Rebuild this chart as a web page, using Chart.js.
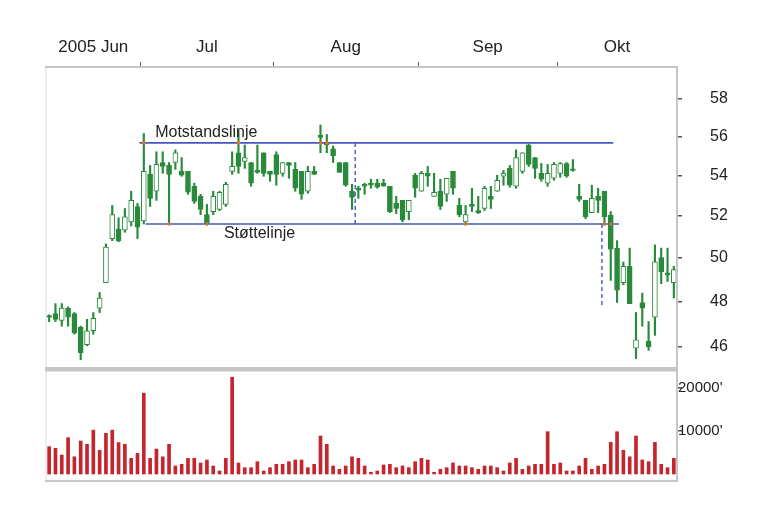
<!DOCTYPE html>
<html>
<head>
<meta charset="utf-8">
<script src="https://cdn.jsdelivr.net/npm/chart.js@4.4.1/dist/chart.umd.min.js"></script>
<style>
  html, body { margin: 0; padding: 0; background: #fff; }
  #wrap { position: relative; width: 768px; height: 523px; }
  canvas { position: absolute; left: 0; top: 0; }
</style>
</head>
<body>
<div id="wrap">
  <canvas id="pris" width="768" height="523"></canvas>
  <canvas id="volum" width="768" height="523"></canvas>
</div>
<script>
// Måneder og antall handelsdager
const months = ['2005 Jun', 'Jul', 'Aug', 'Sep', 'Okt'];
const monthDays = [15, 21, 23, 22, 19];
const priceTicks = [46, 48, 50, 52, 54, 56, 58];
const volumeTicks = [10000, 20000];

// Kurs (åpning, høy, lav, slutt)
const open = [47.3, 47.45, 47.15, 47.7, 47.45, 46.85, 46.1, 46.7, 47.7, 48.85,
  50.9, 51.35, 51.3, 51.7, 52.45, 51.75, 54.05, 53.2, 54.65, 54.5,
  54.65, 54.2, 54.2, 53.45, 52.95, 52.05, 52.2, 52.3, 52.55, 54.2,
  55.15, 54.7, 54.65, 54.27, 55.15, 54.2, 55.05, 54.1, 54.65, 54.3,
  54.2, 53.2, 54.2, 56.05, 55.65, 55.35, 54.65, 54.65, 53.2, 53.35,
  53.55, 53.6, 53.6, 53.6, 53.45, 52.6, 52.75, 52.2, 54.0, 53.2,
  54.1, 52.95, 53.2, 53.05, 54.2, 52.5, 51.7, 52.55, 52.25, 52.35,
  52.95, 53.2, 53.95, 54.35, 53.45, 54.2, 55.55, 54.9, 54.1, 53.6,
  53.85, 54.1, 54.6, 54.3, 52.95, 52.75, 52.15, 52.95, 53.2, 52.03,
  50.45, 48.85, 49.6, 45.95, 47.95, 46.25, 47.3, 50.0, 49.3, 48.85];
const high = [47.4, 47.9, 47.9, 47.75, 47.5, 46.9, 47.2, 47.5, 48.4, 50.65,
  52.5, 51.9, 52.35, 53.2, 52.6, 56.15, 54.5, 55.2, 55.2, 54.65,
  55.3, 54.9, 54.2, 53.6, 53.05, 52.55, 53.2, 53.2, 53.65, 55.2,
  56.3, 55.55, 54.65, 55.55, 55.15, 54.2, 55.2, 54.65, 54.65, 54.65,
  54.2, 54.45, 54.45, 56.6, 56.1, 55.5, 54.65, 54.65, 53.55, 53.45,
  53.6, 53.8, 53.8, 53.8, 53.45, 52.95, 52.75, 52.75, 54.1, 54.2,
  54.45, 54.1, 53.8, 53.85, 54.2, 52.85, 52.5, 53.35, 52.95, 53.45,
  53.45, 54.0, 54.25, 54.5, 55.3, 55.15, 55.6, 54.9, 54.6, 54.55,
  54.65, 54.65, 54.65, 54.8, 53.55, 52.75, 53.5, 53.35, 53.2, 52.2,
  50.8, 49.8, 50.45, 47.5, 48.37, 47.1, 50.6, 50.45, 50.45, 49.6];
const low = [47.1, 47.1, 46.9, 46.9, 46.55, 45.45, 46.05, 46.55, 47.5, 48.85,
  50.8, 50.75, 51.2, 51.5, 50.9, 51.6, 52.45, 52.75, 54.1, 51.6,
  54.3, 53.95, 53.05, 52.6, 52.05, 51.55, 52.05, 52.25, 52.45, 54.05,
  54.1, 54.35, 53.45, 54.1, 53.95, 53.7, 53.5, 53.95, 53.85, 53.2,
  52.8, 53.1, 54.05, 55.15, 55.15, 54.65, 54.15, 53.45, 52.3, 52.85,
  53.05, 53.35, 53.35, 53.45, 52.15, 52.1, 51.7, 51.8, 52.9, 53.2,
  53.45, 52.95, 52.3, 52.7, 53.05, 51.95, 51.6, 52.2, 52.1, 52.25,
  52.35, 53.2, 53.5, 53.4, 53.35, 54.1, 54.45, 53.85, 53.7, 53.45,
  53.75, 53.9, 53.9, 54.2, 52.7, 51.85, 52.15, 52.15, 51.55, 48.95,
  47.95, 48.75, 47.9, 45.5, 46.9, 45.85, 46.5, 48.8, 48.9, 48.15];
const close = [47.3, 47.2, 47.7, 47.3, 46.6, 45.75, 46.7, 47.25, 48.15, 50.5,
  52.05, 50.8, 51.95, 52.75, 51.45, 54.2, 52.85, 54.55, 54.45, 54.05,
  55.15, 54.0, 53.15, 52.7, 52.3, 51.6, 52.95, 53.15, 53.55, 54.45,
  54.45, 54.9, 53.6, 54.15, 54.1, 54.05, 54.05, 54.65, 54.5, 53.35,
  53.05, 54.2, 54.05, 55.95, 55.55, 55.0, 54.15, 53.5, 52.9, 53.25,
  53.45, 53.5, 53.4, 53.45, 52.2, 52.35, 51.8, 52.75, 53.35, 54.1,
  53.95, 53.15, 52.45, 53.85, 53.35, 52.05, 52.05, 52.45, 52.15, 53.35,
  52.8, 53.75, 54.1, 53.5, 54.9, 55.15, 54.55, 54.35, 53.8, 54.1,
  54.55, 54.6, 53.95, 54.25, 52.8, 51.95, 52.85, 52.75, 51.95, 50.4,
  48.5, 49.6, 47.9, 46.3, 47.7, 46.0, 49.8, 49.35, 49.2, 49.45];

// Omsetning
const volume = [6350, 5970, 4400, 8450, 4000, 7670, 6900, 10200, 5500, 9450,
  10200, 7300, 6900, 3640, 4800, 18800, 3640, 5800, 4000, 6900,
  1860, 2250, 3640, 3640, 2560, 3260, 1860, 700, 3640, 22500,
  2560, 1470, 1470, 2870, 700, 1470, 2250, 2250, 2870, 3260,
  3260, 1470, 2250, 8840, 6900, 1860, 1080, 1860, 4000, 3640,
  1860, 400, 700, 2100, 2250, 1470, 1860, 1470, 2870, 3640,
  3260, 400, 1080, 1470, 2560, 1860, 1860, 1470, 1080, 1860,
  1860, 1470, 700, 2560, 3640, 1080, 1860, 2250, 2250, 9840,
  2250, 2560, 700, 700, 1860, 3640, 1080, 1860, 2250, 7360,
  9840, 5500, 4000, 8840, 3260, 2870, 7360, 2250, 1470, 3640];

// Trendlinjer
const resistance = 55.66;
const support = 51.6;
const resistanceSpan = [14.8, 89.9];
const supportSpan = [15.8, 90.8];
const breakLines = [[49.0, resistance, support], [88.1, support, 47.75]];
const touchesR = [15, 30, 43, 44];
const touchesS = [19, 25, 66, 88, 89];
const lineTexts = [['Motstandslinje', 17.3, 56.2], ['Støttelinje', 28.2, 51.12]];

const green = '#2a8a3c';
const blue = '#4657c0';
const frameColor = '#c6c6c6';
const font = { family: 'Liberation Sans', size: 16 };
Chart.defaults.font.family = 'Liberation Sans';

const xs = open.map((_, i) => i + 0.5);
const nDays = monthDays.reduce((a, b) => a + b, 0);
const bounds = [];
let acc = 0;
monthDays.forEach(d => { acc += d; bounds.push(acc); });
const monthCenters = monthDays.map((d, k) => bounds[k] - d / 2);

const framePlugin = {
    id: 'frame',
    afterDraw(chart, args, opts) {
        const { ctx, chartArea: a } = chart;
        ctx.save();
        (opts.sides || []).forEach(s => {
            ctx.lineWidth = s.w;
            ctx.strokeStyle = s.c || frameColor;
            ctx.beginPath();
            if (s.side === 'top') { ctx.moveTo(a.left - 1, a.top); ctx.lineTo(a.right + 1, a.top); }
            if (s.side === 'bottom') { ctx.moveTo(a.left - 1, a.bottom); ctx.lineTo(a.right + 1, a.bottom); }
            if (s.side === 'left') { ctx.moveTo(a.left, a.top); ctx.lineTo(a.left, a.bottom); }
            if (s.side === 'right') { ctx.moveTo(a.right, a.top); ctx.lineTo(a.right, a.bottom); }
            ctx.stroke();
        });
        ctx.restore();
    }
};

const textPlugin = {
    id: 'lineTexts',
    afterDatasetsDraw(chart) {
        const { ctx, scales } = chart;
        ctx.save();
        ctx.font = '16px "Liberation Sans"';
        ctx.fillStyle = '#222';
        ctx.textAlign = 'left';
        ctx.textBaseline = 'middle';
        lineTexts.forEach(t => {
            ctx.fillText(t[0], scales.x.getPixelForValue(t[1]), scales.y.getPixelForValue(t[2]));
        });
        ctx.restore();
    }
};

// Kursgraf
new Chart(document.getElementById('pris'), {
    type: 'bar',
    data: {
        datasets: [
            {
                type: 'line', order: 0,
                data: touchesR.map(i => ({ x: xs[i], y: resistance }))
                    .concat(touchesS.map(i => ({ x: xs[i], y: support }))),
                showLine: false, pointRadius: 1.8, pointBorderWidth: 0,
                pointBackgroundColor: '#e2731e'
            },
            {
                type: 'line', order: 1,
                data: [{ x: resistanceSpan[0], y: resistance }, { x: resistanceSpan[1], y: resistance }],
                borderColor: blue, borderWidth: 1.6, pointRadius: 0
            },
            {
                type: 'line', order: 1,
                data: [{ x: supportSpan[0], y: support }, { x: supportSpan[1], y: support }],
                borderColor: blue, borderWidth: 1.6, pointRadius: 0
            },
            ...breakLines.map(b => ({
                type: 'line', order: 1,
                data: [{ x: b[0], y: b[1] }, { x: b[0], y: b[2] }],
                borderColor: blue, borderWidth: 1.4, borderDash: [4, 3], pointRadius: 0
            })),
            {
                label: 'Kropp', order: 2, grouped: false,
                data: xs.map((x, i) => ({ x, y: [open[i], close[i]] })),
                backgroundColor: close.map((c, i) => c > open[i] ? '#ffffff' : green),
                borderColor: green, borderWidth: 1, borderSkipped: false,
                barThickness: 5, minBarLength: 1.5
            },
            {
                label: 'Veke', order: 3, grouped: false,
                data: xs.map((x, i) => ({ x, y: [low[i], high[i]] })),
                backgroundColor: green, barThickness: 1.5
            }
        ]
    },
    options: {
        responsive: false,
        animation: false,
        devicePixelRatio: 1,
        events: [],
        layout: { padding: { left: 46, right: 0, top: 0, bottom: 154 } },
        plugins: {
            legend: { display: false },
            tooltip: { enabled: false },
            frame: { sides: [
                { side: 'left', w: 1, c: '#dcdcdc' },
                { side: 'top', w: 2 },
                { side: 'right', w: 2 },
                { side: 'bottom', w: 4 }
            ] }
        },
        scales: {
            x: {
                type: 'linear', position: 'top', min: 0, max: nDays, offset: false, weight: 1,
                afterBuildTicks: s => { s.ticks = bounds.slice(0, -1).map(v => ({ value: v })); },
                afterFit: s => { s.height = 5; },
                ticks: { display: false },
                grid: { drawOnChartArea: false, drawTicks: true, tickLength: 5, color: '#555', lineWidth: 1, offset: false },
                border: { display: false }
            },
            xm: {
                type: 'linear', position: 'top', min: 0, max: nDays, offset: false, weight: 2,
                afterBuildTicks: s => { s.ticks = monthCenters.map(v => ({ value: v })); },
                afterFit: s => { s.height = 62; },
                ticks: {
                    padding: -4, maxRotation: 0, autoSkip: false, color: '#222',
                    font: { family: 'Liberation Sans', size: 17 },
                    callback: (v, idx) => months[idx]
                },
                grid: { display: false },
                border: { display: false }
            },
            y: {
                type: 'logarithmic', position: 'right', min: 45.06, max: 59.75,
                afterBuildTicks: s => { s.ticks = priceTicks.map(v => ({ value: v })); },
                afterFit: s => { s.width = 91; },
                ticks: { padding: 28, autoSkip: false, color: '#222', font: font, callback: v => String(v) },
                grid: { drawOnChartArea: false, drawTicks: true, tickLength: 5, color: '#555', lineWidth: 1.5 },
                border: { display: false }
            }
        }
    },
    plugins: [framePlugin, textPlugin]
});

// Omsetningsgraf
new Chart(document.getElementById('volum'), {
    type: 'bar',
    data: {
        datasets: [{
            label: 'Omsetning', grouped: false,
            data: xs.map((x, i) => ({ x, y: volume[i] })),
            backgroundColor: '#c4262e', barThickness: 3
        }]
    },
    options: {
        responsive: false,
        animation: false,
        devicePixelRatio: 1,
        events: [],
        layout: { padding: { left: 46, right: 0, top: 370, bottom: 42 } },
        plugins: {
            legend: { display: false },
            tooltip: { enabled: false },
            frame: { sides: [
                { side: 'left', w: 1, c: '#dcdcdc' },
                { side: 'right', w: 2 },
                { side: 'bottom', w: 2 },
                { side: 'top', w: 3 }
            ] }
        },
        scales: {
            x: { type: 'linear', display: false, min: 0, max: nDays, offset: false },
            y: {
                type: 'linear', position: 'right', min: -1628, max: 24186,
                afterBuildTicks: s => { s.ticks = volumeTicks.map(v => ({ value: v })); },
                afterFit: s => { s.width = 91; },
                ticks: { padding: -4, autoSkip: false, color: '#222', font: { family: 'Liberation Sans', size: 15 }, callback: v => v + "'" },
                grid: { drawOnChartArea: false, drawTicks: true, tickLength: 5, color: '#555', lineWidth: 1.5 },
                border: { display: false }
            }
        }
    },
    plugins: [framePlugin]
});
</script>
</body>
</html>
